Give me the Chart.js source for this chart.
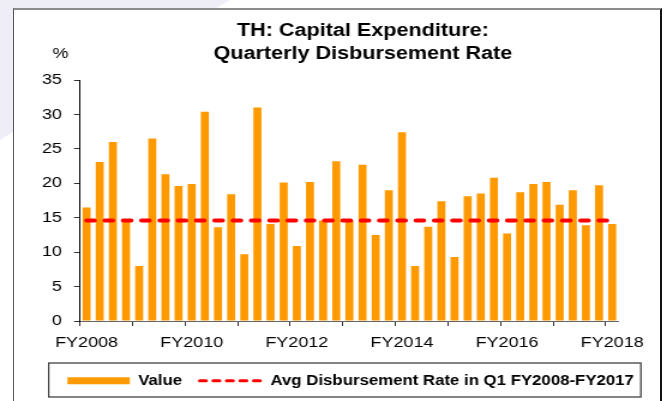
<!DOCTYPE html>
<html>
<head>
<meta charset="utf-8">
<script src="https://cdn.jsdelivr.net/npm/chart.js@4.4.0/dist/chart.umd.min.js"></script>
<style>
html, body { margin: 0; padding: 0; background: #ffffff; overflow: hidden; width: 667px; height: 401px; }
#shade { position: absolute; left: 0; top: 0; width: 230px; height: 140px; background: #efeef6; clip-path: polygon(0 0, 100% 0, 0 100%); }
#frame { position: absolute; left: 13px; top: 8px; width: 649px; height: 420px; background: #ffffff;
         border-top: 2px solid #8c8c8c; border-left: 1px solid #555; border-right: 2px solid #111; box-sizing: border-box; }
#c { position: absolute; left: 0; top: 0; }
</style>
</head>
<body>
<div id="shade"></div>
<div id="frame"></div>
<canvas id="c" width="556" height="401" style="width:667px;height:401px;"></canvas>
<script>
// ---- data ----
const categories = [
  'FY2008 Q1','FY2008 Q2','FY2008 Q3','FY2008 Q4',
  'FY2009 Q1','FY2009 Q2','FY2009 Q3','FY2009 Q4',
  'FY2010 Q1','FY2010 Q2','FY2010 Q3','FY2010 Q4',
  'FY2011 Q1','FY2011 Q2','FY2011 Q3','FY2011 Q4',
  'FY2012 Q1','FY2012 Q2','FY2012 Q3','FY2012 Q4',
  'FY2013 Q1','FY2013 Q2','FY2013 Q3','FY2013 Q4',
  'FY2014 Q1','FY2014 Q2','FY2014 Q3','FY2014 Q4',
  'FY2015 Q1','FY2015 Q2','FY2015 Q3','FY2015 Q4',
  'FY2016 Q1','FY2016 Q2','FY2016 Q3','FY2016 Q4',
  'FY2017 Q1','FY2017 Q2','FY2017 Q3','FY2017 Q4',
  'FY2018 Q1'
];
const values = [
  16.5, 23.1, 26.0, 14.6,
  8.0, 26.5, 21.3, 19.6,
  19.9, 30.4, 13.6, 18.4,
  9.7, 31.0, 14.1, 20.1,
  10.9, 20.2, 14.6, 23.2,
  14.6, 22.7, 12.5, 19.0,
  27.4, 8.0, 13.7, 17.4,
  9.3, 18.1, 18.5, 20.8,
  12.7, 18.7, 19.9, 20.2,
  16.9, 19.0, 13.9, 19.7,
  14.1
];
const avgRate = [
  14.6, 14.6, 14.6, 14.6, 14.6, 14.6, 14.6, 14.6, 14.6, 14.6,
  14.6, 14.6, 14.6, 14.6, 14.6, 14.6, 14.6, 14.6, 14.6, 14.6,
  14.6, 14.6, 14.6, 14.6, 14.6, 14.6, 14.6, 14.6, 14.6, 14.6,
  14.6, 14.6, 14.6, 14.6, 14.6, 14.6, 14.6, 14.6, 14.6, 14.6,
  14.6
];
const tickLabels = ['FY2008', 'FY2010', 'FY2012', 'FY2014', 'FY2016', 'FY2018'];
const yTicks = [0, 5, 10, 15, 20, 25, 30, 35];
const titleLines = ['TH: Capital Expenditure:', 'Quarterly Disbursement Rate'];
const seriesNames = ['Value', 'Avg Disbursement Rate in Q1 FY2008-FY2017'];
const yUnit = '%';

// ---- chart ----
const FONT = "'Liberation Sans', Arial, sans-serif";
Chart.defaults.font.family = FONT;
Chart.defaults.color = '#000';

const layoutTweaks = {
  id: 'layoutTweaks',
  afterLayout(chart) {
    const t = chart.titleBlock;
    if (t) { t.left += 44.6; t.right += 44.6; }
    const l = chart.legend;
    if (l) { l.left += 34.4; l.right += 34.4; l.top -= 1.0; l.bottom -= 1.0; }
  },
  afterDraw(chart) {
    const ctx = chart.ctx;
    const hb = chart.legend && chart.legend.legendHitBoxes;
    if (hb && hb.length) {
      const first = hb[0], last = hb[hb.length - 1];
      const x0 = first.left - 15.6, x1 = last.left + last.width + 5.8;
      const y0 = first.top - 10.7, y1 = first.top + 23.3;
      ctx.save();
      ctx.strokeStyle = '#333';
      ctx.lineWidth = 1.2;
      ctx.strokeRect(x0, y0, x1 - x0, y1 - y0);
      ctx.restore();
    }
    const ys = chart.scales.y;
    ctx.save();
    ctx.font = '15px ' + FONT;
    ctx.fillStyle = '#000';
    ctx.textAlign = 'center';
    ctx.textBaseline = 'middle';
    ctx.fillText(yUnit, chart.chartArea.left - 16.3, ys.top - 26);
    ctx.restore();
  }
};

new Chart(document.getElementById('c'), {
  type: 'bar',
  data: {
    labels: categories,
    datasets: [
      {
        type: 'bar',
        label: seriesNames[0],
        data: values,
        backgroundColor: '#FF9900',
        borderWidth: 0,
        barPercentage: 0.61,
        categoryPercentage: 1.0,
        pointStyle: 'rect',
        order: 2
      },
      {
        type: 'line',
        label: seriesNames[1],
        data: avgRate,
        borderColor: '#FF0000',
        backgroundColor: '#FF0000',
        borderWidth: 4,
        borderDash: [6.6, 8.65],
        borderCapStyle: 'round',
        pointRadius: 0,
        pointStyle: 'line',
        fill: false,
        tension: 0,
        order: 1
      }
    ]
  },
  options: {
    responsive: false,
    devicePixelRatio: 1,
    animation: false,
    events: [],
    layout: { padding: { left: 0, right: 40.2, top: 0, bottom: 2.3 } },
    plugins: {
      title: {
        display: true,
        text: titleLines,
        color: '#000',
        font: { size: 18, weight: 'bold', lineHeight: 1.3056 },
        padding: { top: 19, bottom: 14 }
      },
      legend: {
        display: true,
        position: 'bottom',
        labels: {
          color: '#000',
          font: { size: 14, weight: 'bold' },
          usePointStyle: true,
          pointStyleWidth: 52,
          boxHeight: 7,
          padding: 14.7,
          sort: (a, b) => a.datasetIndex - b.datasetIndex,
          generateLabels(chart) {
            const items = Chart.defaults.plugins.legend.labels.generateLabels(chart);
            items.forEach(it => {
              if (it.datasetIndex === 1) { it.lineWidth = 3; it.lineDash = [5.3, 5.95]; it.lineCap = 'round'; }
            });
            return items;
          }
        }
      },
      tooltip: { enabled: false }
    },
    scales: {
      x: {
        offset: true,
        grid: {
          offset: true,
          drawOnChartArea: false,
          drawTicks: true,
          tickLength: 5,
          tickColor: (ctx) => {
            const c = categories[ctx.index];
            return (c && c.endsWith('Q1')) ? '#333' : 'rgba(0,0,0,0)';
          }
        },
        border: { display: true, color: '#666', width: 1 },
        ticks: {
          autoSkip: false,
          maxRotation: 0,
          minRotation: 0,
          padding: 8,
          color: '#000',
          font: { size: 15, lineHeight: 1.2 },
          callback: function (value, index) {
            const c = categories[index];
            const yr = c.slice(0, 6);
            return (c.endsWith('Q1') && tickLabels.includes(yr)) ? yr : '';
          }
        }
      },
      y: {
        min: yTicks[0],
        max: yTicks[yTicks.length - 1],
        afterFit: (scale) => { scale.width = 66.7; },
        afterBuildTicks: (scale) => { scale.ticks = yTicks.map(v => ({ value: v })); },
        grid: { drawOnChartArea: false, drawTicks: true, tickLength: 5, tickColor: '#333' },
        border: { display: true, color: '#000', width: 1 },
        ticks: {
          padding: 10,
          color: '#000',
          font: { size: 15, lineHeight: 1.2 }
        }
      }
    }
  },
  plugins: [layoutTweaks]
});
</script>
</body>
</html>
